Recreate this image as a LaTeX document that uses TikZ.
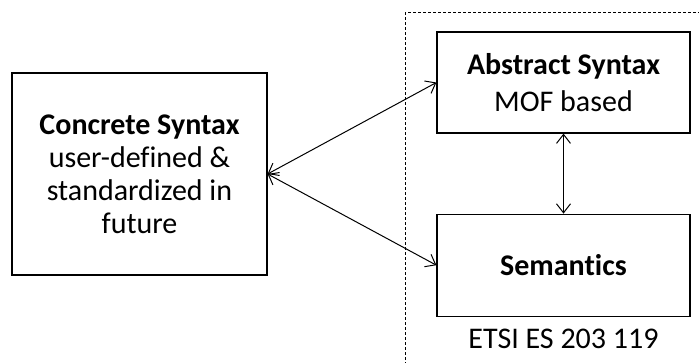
\documentclass[tikz,border=0pt]{standalone}
\usepackage{fontspec}
\setmainfont{Carlito}[Ligatures=NoCommon]
\usepackage{tikz}
\usetikzlibrary{arrows.meta,positioning}
\tikzset{
  >={Straight Barb[length=9pt,width=14pt]},
  every node/.append style={font=\fontsize{30}{33}\selectfont},
}
\tikzset{
  block/.style={draw, line width=1.2pt, align=center, inner sep=4pt},
  link/.style={<->, line width=1pt},
  frame/.style={draw, line width=0.9pt, dash pattern=on 3pt off 2pt}
}

\begin{document}
\begin{tikzpicture}[x=1pt, y=1pt]

\clip (0,0) rectangle (699,-362);

% Boxes inside the standard part
\node[block, minimum width=253pt, minimum height=101pt] (abstract) at (563.5,-82.5)
  {\textbf{Abstract Syntax}\\[4pt]MOF based};
\node[block, minimum width=253pt, minimum height=102pt, below=80pt of abstract] (semantics)
  {\textbf{Semantics}};
\node[below=9pt of semantics] (etsi) {ETSI ES 203 119};

% User-side box
\node[block, minimum width=255pt, minimum height=202pt] (concrete) at (139.5,-174)
  {\textbf{Concrete Syntax}\\user-defined \&\\standardized in\\future};

% Dashed frame (runs off the page)
\draw[frame] (405,-12) rectangle (740,-400);

% Links
\draw[link] (concrete.east) -- (abstract.west);
\draw[link] (concrete.east) -- (semantics.west);
\draw[link] (abstract.south) -- (semantics.north);

\end{tikzpicture}
\end{document}
